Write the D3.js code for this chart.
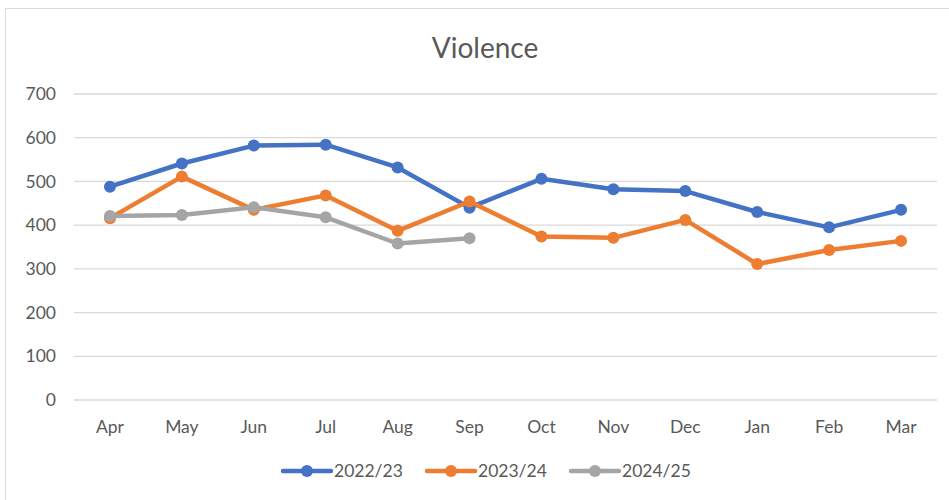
<!DOCTYPE html>
<html>
<head>
<meta charset="utf-8">
<script src="https://cdnjs.cloudflare.com/ajax/libs/d3/7.8.5/d3.min.js"></script>
<style>
  body { margin: 0; background: #fff; }
  svg { font-family: Lato, "Open Sans", sans-serif; }
</style>
</head>
<body>
<svg id="chart" width="949" height="500"></svg>
<script>
// data
let months = ["Apr", "May", "Jun", "Jul", "Aug", "Sep", "Oct", "Nov", "Dec", "Jan", "Feb", "Mar"];
let seriesNames = ["2022/23", "2023/24", "2024/25"];
let vals_2022 = [488, 541, 582, 584, 532, 440, 506, 482, 478, 430, 395, 435];
let vals_2023 = [416, 511, 435, 468, 387, 454, 374, 371, 412, 311, 343, 364];
let vals_2024 = [421, 423, 441, 418, 358, 370];
let yTicks = [0, 100, 200, 300, 400, 500, 600, 700];
let colors = ["#4472C4", "#ED7D31", "#A5A5A5"];

let svg = d3.select("#chart");

// chart frame (only top and left edges fall inside the picture)
svg.append("rect")
    .attr("x", 5.5).attr("y", 8.5)
    .attr("width", 960).attr("height", 520)
    .attr("fill", "none").attr("stroke", "#D9D9D9");

let x = d3.scaleBand().domain(months).range([74, 937]);
let y = d3.scaleLinear().domain([0, 700]).range([400, 94]);

// gridlines
svg.append("g").selectAll("line")
    .data(yTicks)
    .enter().append("line")
    .attr("x1", 74).attr("x2", 937)
    .attr("y1", d => y(d)).attr("y2", d => y(d))
    .attr("stroke", "#D9D9D9").attr("stroke-width", 1.3);

// y labels
svg.append("g").selectAll("text")
    .data(yTicks)
    .enter().append("text")
    .attr("x", 56).attr("y", d => y(d))
    .attr("dy", "0.35em")
    .attr("text-anchor", "end")
    .attr("font-size", 17.5).attr("fill", "#595959")
    .text(d => d);

// x labels
svg.append("g").selectAll("text")
    .data(months)
    .enter().append("text")
    .attr("x", d => x(d) + x.bandwidth() / 2).attr("y", 427)
    .attr("dy", "0.35em")
    .attr("text-anchor", "middle")
    .attr("font-size", 17.5).attr("fill", "#595959")
    .text(d => d);

// title
svg.append("text")
    .attr("x", 485).attr("y", 58)
    .attr("text-anchor", "middle")
    .attr("font-size", 28).attr("fill", "#595959")
    .text("Violence");

let allSeries = [vals_2022, vals_2023, vals_2024];
let line = d3.line()
    .x((d, i) => x(months[i]) + x.bandwidth() / 2)
    .y(d => y(d));

allSeries.forEach((vals, k) => {
    let g = svg.append("g");
    g.append("path")
        .attr("d", line(vals))
        .attr("fill", "none")
        .attr("stroke", colors[k])
        .attr("stroke-width", 4.5)
        .attr("stroke-linejoin", "round");
    g.selectAll("circle")
        .data(vals)
        .enter().append("circle")
        .attr("cx", (d, i) => x(months[i]) + x.bandwidth() / 2)
        .attr("cy", d => y(d))
        .attr("r", 6)
        .attr("fill", colors[k]);
});

// legend
let legendX = [283, 427, 571];
seriesNames.forEach((name, k) => {
    let lg = svg.append("g").attr("transform", "translate(" + legendX[k] + ",471)");
    lg.append("line")
        .attr("x1", 0).attr("x2", 48)
        .attr("stroke", colors[k]).attr("stroke-width", 4.5)
        .attr("stroke-linecap", "round");
    lg.append("circle").attr("cx", 24).attr("r", 6).attr("fill", colors[k]);
    lg.append("text")
        .attr("x", 51).attr("dy", "0.35em")
        .attr("font-size", 17.5).attr("fill", "#595959")
        .text(name);
});
</script>
</body>
</html>
